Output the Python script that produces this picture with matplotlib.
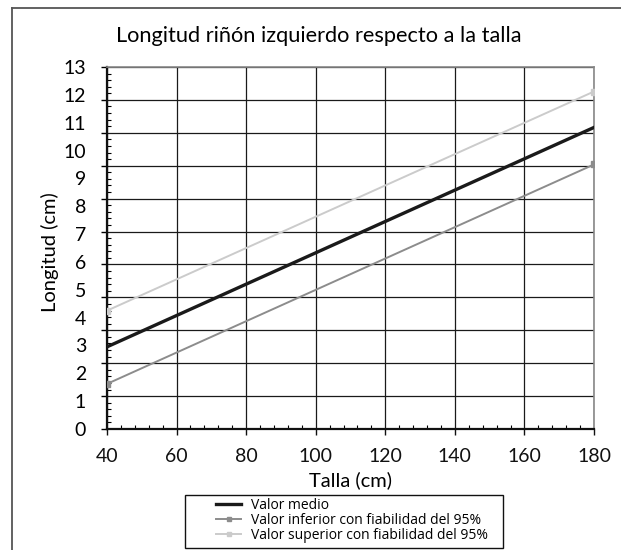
import numpy as np
import matplotlib
matplotlib.use("Agg")
import matplotlib.pyplot as plt
from matplotlib.patches import Rectangle
from matplotlib.lines import Line2D
from matplotlib.ticker import FixedLocator, NullFormatter

plt.rcParams['font.family'] = ['Lato', 'DejaVu Sans']

# Data
talla = [40, 180]
valor_medio = [2.95, 10.83]
valor_inferior = [1.62, 9.50]
valor_superior = [4.25, 12.12]

title = "Longitud riñón izquierdo respecto a la talla"
xlabel = "Talla (cm)"
ylabel = "Longitud (cm)"
legend_labels = ["Valor medio",
                 "Valor inferior con fiabilidad del 95%",
                 "Valor superior con fiabilidad del 95%"]
x_ticks = [40, 60, 80, 100, 120, 140, 160, 180]
y_labels = list(range(0, 14))
y_grid_divisions = 11

W, H = 621, 550
fig = plt.figure(figsize=(W / 100, H / 100), dpi=100)

def fx(px):
    return px / W

def fy(py):
    return 1 - py / H

left, right, top, bottom = 107, 594, 67, 429
ax = fig.add_axes([fx(left), fy(bottom), fx(right - left), (bottom - top) / H])

c_med, c_inf, c_sup = '#1a1a1a', '#8c8c8c', '#cbcbcb'
ax.plot(talla, valor_medio, color=c_med, lw=2.4, zorder=5)
ax.plot(talla, valor_inferior, color=c_inf, lw=1.4, marker='s', ms=4, zorder=4)
ax.plot(talla, valor_superior, color=c_sup, lw=1.4, marker='s', ms=4, zorder=4)

ax.set_xlim(40, 180)
ax.set_ylim(0, 13)

# x axis
ax.set_xticks(x_ticks)
ax.xaxis.set_minor_locator(FixedLocator(np.arange(40, 181, 4)))
ax.tick_params(axis='x', which='major', direction='out', length=4, width=1,
               labelsize=14, pad=10, colors='#111111')
ax.tick_params(axis='x', which='minor', direction='in', length=3, width=0.8)

# y axis: gridlines at 11 equal divisions, labels at integers
grid_pos = np.linspace(0, 13, y_grid_divisions + 1)
ax.yaxis.set_major_locator(FixedLocator(grid_pos))
ax.yaxis.set_major_formatter(NullFormatter())
ax.yaxis.set_minor_locator(FixedLocator(np.linspace(0, 13, y_grid_divisions * 5 + 1)))
ax.tick_params(axis='y', which='major', direction='out', length=4, width=1)
ax.tick_params(axis='y', which='minor', direction='in', length=3, width=0.8)

sec = ax.secondary_yaxis('left')
sec.set_yticks(y_labels)
sec.tick_params(length=0, labelsize=14, pad=15)
sec.spines['left'].set_visible(False)

ax.grid(True, which='major', color='#1a1a1a', lw=0.9)
ax.set_axisbelow(True)

for s in ['left', 'bottom']:
    ax.spines[s].set_linewidth(1.6)
    ax.spines[s].set_color('#111111')
for s in ['top', 'right']:
    ax.spines[s].set_linewidth(1.2)
    ax.spines[s].set_color('#888888')

ax.set_xlabel(xlabel, fontsize=14.5, labelpad=4)
fig.text(fx(50), fy(252), ylabel, rotation=90, ha='center', va='center', fontsize=14.5)
fig.text(fx(319), fy(36), title, ha='center', va='center', fontsize=15.7)

# outer frame (left and top edges)
fig.add_artist(Line2D([fx(12), fx(12)], [fy(8), 0], transform=fig.transFigure,
                      color='#555555', lw=1.3))
fig.add_artist(Line2D([fx(12), 1], [fy(8), fy(8)], transform=fig.transFigure,
                      color='#555555', lw=1.3))

# legend box
lx0, lx1, ly0, ly1 = 185, 503, 495, 548
fig.add_artist(Rectangle((fx(lx0), fy(ly1)), fx(lx1 - lx0), (ly1 - ly0) / H,
                         transform=fig.transFigure, fill=False, ec='#111111', lw=1.0))
handles = [
    Line2D([], [], color=c_med, lw=2.4),
    Line2D([], [], color=c_inf, lw=1.4, marker='s', ms=3),
    Line2D([], [], color=c_sup, lw=1.4, marker='s', ms=3),
]
fig.legend(handles, legend_labels, loc='upper left',
           bbox_to_anchor=(fx(216), fy(498)), frameon=False,
           prop={'family': ['Open Sans', 'DejaVu Sans'], 'size': 10},
           labelspacing=0.0, handlelength=1.8, handletextpad=0.7,
           borderpad=0, borderaxespad=0)

fig.savefig("out.png", dpi=100, facecolor='white')
